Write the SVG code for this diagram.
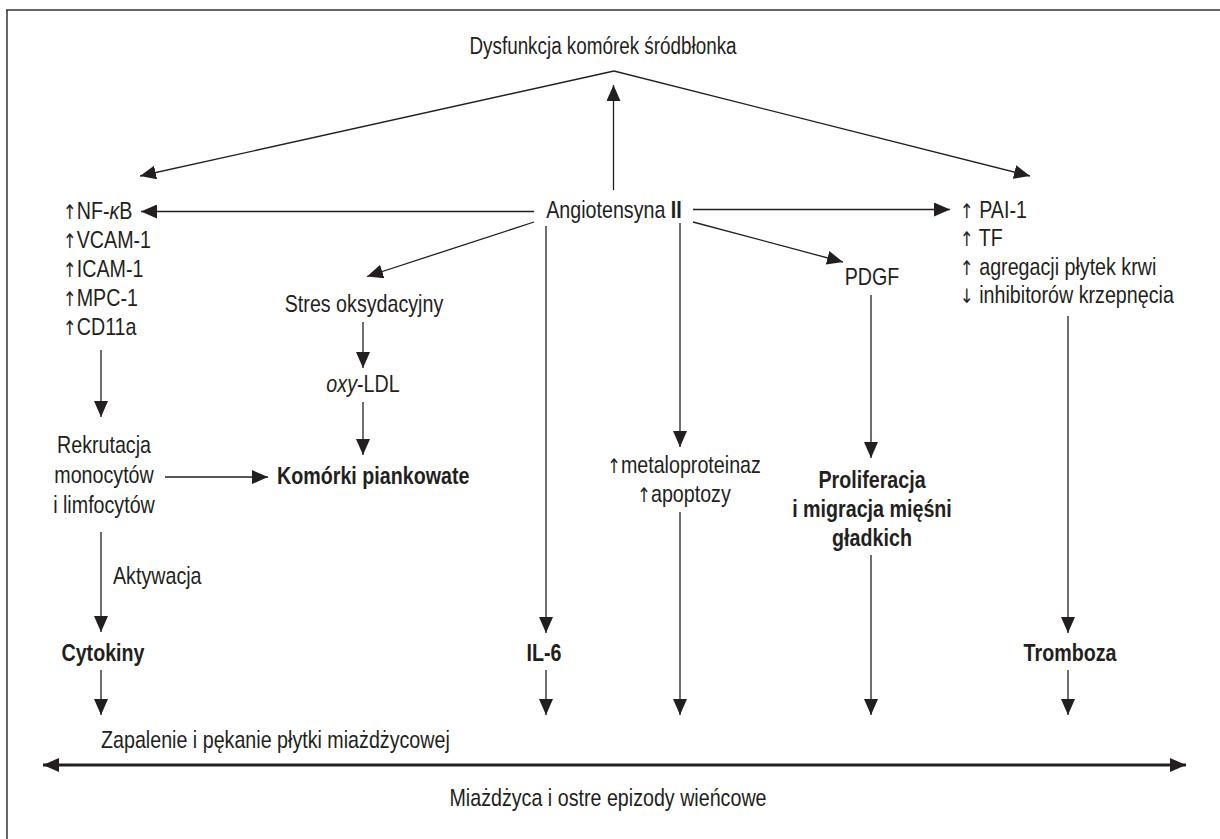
<svg xmlns="http://www.w3.org/2000/svg" width="1220" height="839" viewBox="0 0 1220 839">
<defs>
<style>
.t{font-family:"Liberation Sans",Arial,sans-serif;font-size:24px;fill:#231f20}
.ti{font-size:23px}
.b{font-weight:bold}
.m{text-anchor:middle}
.i{font-style:italic}
.ar{font-family:"DejaVu Sans",sans-serif;font-size:20px;font-weight:normal;fill:#231f20}
#connectors path{stroke:#231f20;stroke-width:1.3;fill:none;marker-end:url(#ah)}
#connectors path.thick{stroke-width:3;marker-start:url(#ah)}
</style>
<marker id="ah" viewBox="0 0 16 14" refX="16" refY="7" markerWidth="16" markerHeight="14" markerUnits="userSpaceOnUse" orient="auto-start-reverse">
<path d="M0,0 L16,7 L0,14 z" fill="#231f20"/>
</marker>
</defs>
<rect width="1220" height="839" fill="#fff"/>
<g id="frame">
<line x1="6" y1="10" x2="1220" y2="10" stroke="#666" stroke-width="2"/>
<line x1="7" y1="10" x2="7" y2="839" stroke="#333" stroke-width="1.5"/>
</g>
<g id="connectors">
<path d="M614,71 L140,176"/>
<path d="M614,71 L1030,176"/>
<path d="M613.5,190 V85"/>
<path d="M534,211.5 H141"/>
<path d="M693,209.5 H950"/>
<path d="M534,222 L367,276.5"/>
<path d="M693,222 L843,262"/>
<path d="M363,322 V368"/>
<path d="M363,402 V455"/>
<path d="M101,350 V417"/>
<path d="M165,477 H268"/>
<path d="M101,532 V632"/>
<path d="M101,670 V715"/>
<path d="M546,226 V633"/>
<path d="M546,670 V715"/>
<path d="M680,223 V447"/>
<path d="M680,512 V715"/>
<path d="M871,295 V458"/>
<path d="M871,555 V715"/>
<path d="M1068,316 V633"/>
<path d="M1068,670 V715"/>
<path class="thick" d="M43,765 H1186"/>
</g>
<g id="n-dysfunkcja"><text class="t ti m" transform="translate(603 54) scale(.82 1)">Dysfunkcja komórek śródbłonka</text></g>
<g id="n-angiotensyna"><text class="t m" transform="translate(614 218) scale(.82 1)">Angiotensyna <tspan class="b">II</tspan></text></g>
<g id="n-czynniki"><text class="t" transform="translate(63 219) scale(.82 1)"><tspan x="0" y="0"><tspan class="ar">↑</tspan>NF-<tspan class="i">κ</tspan>B</tspan><tspan x="0" y="29"><tspan class="ar">↑</tspan>VCAM-1</tspan><tspan x="0" y="58"><tspan class="ar">↑</tspan>ICAM-1</tspan><tspan x="0" y="87"><tspan class="ar">↑</tspan>MPC-1</tspan><tspan x="0" y="116"><tspan class="ar">↑</tspan>CD11a</tspan></text></g>
<g id="n-pai"><text class="t" transform="translate(960 218) scale(.82 1)"><tspan x="0" y="0"><tspan class="ar">↑</tspan> PAI-1</tspan><tspan x="0" y="28.5"><tspan class="ar">↑</tspan> TF</tspan><tspan x="0" y="57"><tspan class="ar">↑</tspan> agregacji płytek krwi</tspan><tspan x="0" y="85.5"><tspan class="ar">↓</tspan> inhibitorów krzepnęcia</tspan></text></g>
<g id="n-stres"><text class="t m" transform="translate(364 312) scale(.82 1)">Stres oksydacyjny</text></g>
<g id="n-oxyldl"><text class="t m" transform="translate(363 392) scale(.82 1)"><tspan class="i">oxy</tspan>-LDL</text></g>
<g id="n-komorki"><text class="t b" transform="translate(277 484) scale(.82 1)">Komórki piankowate</text></g>
<g id="n-rekrutacja"><text class="t m" transform="translate(104 453) scale(.82 1)"><tspan x="0" y="0">Rekrutacja</tspan><tspan x="0" y="30">monocytów</tspan><tspan x="0" y="60">i limfocytów</tspan></text></g>
<g id="n-aktywacja"><text class="t" transform="translate(113 584) scale(.82 1)">Aktywacja</text></g>
<g id="n-cytokiny"><text class="t b m" transform="translate(103 661) scale(.82 1)">Cytokiny</text></g>
<g id="n-il6"><text class="t b m" transform="translate(544 661) scale(.82 1)">IL-6</text></g>
<g id="n-metalo"><text class="t m" transform="translate(684 473) scale(.82 1)"><tspan x="0" y="0"><tspan class="ar">↑</tspan>metaloproteinaz</tspan><tspan x="0" y="29"><tspan class="ar">↑</tspan>apoptozy</tspan></text></g>
<g id="n-pdgf"><text class="t m" transform="translate(872 285) scale(.82 1)">PDGF</text></g>
<g id="n-proliferacja"><text class="t b m" transform="translate(872 488) scale(.82 1)"><tspan x="0" y="0">Proliferacja</tspan><tspan x="0" y="29">i migracja mięśni</tspan><tspan x="0" y="58">gładkich</tspan></text></g>
<g id="n-tromboza"><text class="t b m" transform="translate(1070 661) scale(.82 1)">Tromboza</text></g>
<g id="n-zapalenie"><text class="t" transform="translate(101 748) scale(.82 1)">Zapalenie i pękanie płytki miażdżycowej</text></g>
<g id="n-miazdzyca"><text class="t m" transform="translate(608 806) scale(.82 1)">Miażdżyca i ostre epizody wieńcowe</text></g>
</svg>
